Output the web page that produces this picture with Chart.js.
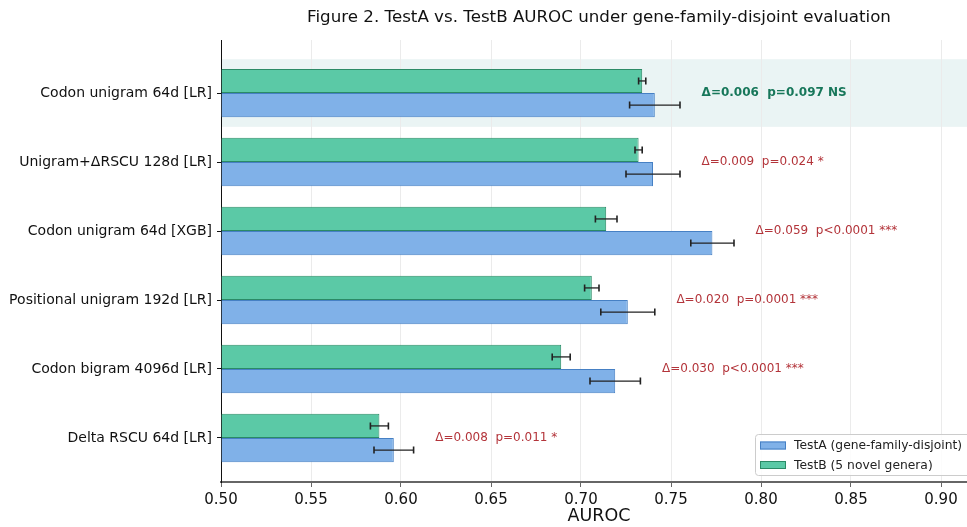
<!DOCTYPE html>
<html>
<head>
<meta charset="utf-8">
<script src="https://cdn.jsdelivr.net/npm/chart.js@4.4.1/dist/chart.umd.min.js"></script>
<style>
  html, body { margin: 0; padding: 0; background: #fff; overflow: hidden; }
  /* the original axes run a little past the right edge of the picture */
  #clip { width: 967px; height: 527px; overflow: hidden; position: relative; }
  #wrap { width: 982px; height: 527px; position: relative; }
</style>
</head>
<body>
<div id="clip"><div id="wrap"><canvas id="auroc"></canvas></div></div>
<script>
// data
var CATEGORIES = [
  'Codon unigram 64d [LR]',
  'Unigram+ΔRSCU 128d [LR]',
  'Codon unigram 64d [XGB]',
  'Positional unigram 192d [LR]',
  'Codon bigram 4096d [LR]',
  'Delta RSCU 64d [LR]'
];
var TESTA = [0.741, 0.740, 0.773, 0.726, 0.719, 0.596];
var TESTA_ERR = [0.014, 0.015, 0.012, 0.015, 0.014, 0.011];
var TESTB = [0.734, 0.732, 0.714, 0.706, 0.689, 0.588];
var TESTB_ERR = [0.002, 0.002, 0.006, 0.004, 0.005, 0.005];
var NOTES = [
  'Δ=0.006  p=0.097 NS',
  'Δ=0.009  p=0.024 *',
  'Δ=0.059  p<0.0001 ***',
  'Δ=0.020  p=0.0001 ***',
  'Δ=0.030  p<0.0001 ***',
  'Δ=0.008  p=0.011 *'
];
var NOTE_X = [0.767, 0.767, 0.797, 0.753, 0.745, 0.619];
var NS_ROWS = [0];
var X_TICKS = [0.50, 0.55, 0.60, 0.65, 0.70, 0.75, 0.80, 0.85, 0.90];

var FONT = "'DejaVu Sans', sans-serif";
var COLORS = {
  A: '#80b1e8', A_EDGE: '#4680c4',
  B: '#5bc9a6', B_EDGE: '#2b8a66',
  NS: '#17775a', SIG: '#b3343a',
  BAND: '#eaf4f4', ERR: '#222222'
};

function points(vals) {
  return vals.map(function (v, i) { return { x: v, y: i }; });
}

// light band behind the non-significant row
var bandPlugin = {
  id: 'band',
  beforeDraw: function (chart) {
    var ctx = chart.ctx, area = chart.chartArea, y = chart.scales.y;
    ctx.save();
    ctx.fillStyle = COLORS.BAND;
    NS_ROWS.forEach(function (i) {
      var top = y.getPixelForValue(i - 0.49);
      var bot = y.getPixelForValue(i + 0.49);
      ctx.fillRect(area.left, top, area.right - area.left, bot - top);
    });
    ctx.restore();
  }
};

var errPlugin = {
  id: 'errbars',
  afterDatasetsDraw: function (chart) {
    var ctx = chart.ctx, x = chart.scales.x;
    var errs = [TESTB_ERR, TESTA_ERR];
    var vals = [TESTB, TESTA];
    ctx.save();
    ctx.strokeStyle = COLORS.ERR;
    chart.data.datasets.forEach(function (ds, di) {
      chart.getDatasetMeta(di).data.forEach(function (bar, i) {
        var x0 = x.getPixelForValue(vals[di][i] - errs[di][i]);
        var x1 = x.getPixelForValue(vals[di][i] + errs[di][i]);
        var yc = bar.y;
        ctx.lineWidth = 1.3;
        ctx.beginPath();
        ctx.moveTo(x0, yc); ctx.lineTo(x1, yc);
        ctx.stroke();
        ctx.lineWidth = 1.6;
        ctx.beginPath();
        ctx.moveTo(x0, yc - 3.5); ctx.lineTo(x0, yc + 3.5);
        ctx.moveTo(x1, yc - 3.5); ctx.lineTo(x1, yc + 3.5);
        ctx.stroke();
      });
    });
    ctx.restore();
  }
};

var notePlugin = {
  id: 'notes',
  afterDatasetsDraw: function (chart) {
    var ctx = chart.ctx, x = chart.scales.x, y = chart.scales.y;
    ctx.save();
    ctx.textBaseline = 'middle';
    ctx.textAlign = 'left';
    NOTES.forEach(function (t, i) {
      var ns = NS_ROWS.indexOf(i) >= 0;
      ctx.font = (ns ? 'bold ' : '') + '12px ' + FONT;
      ctx.fillStyle = ns ? COLORS.NS : COLORS.SIG;
      ctx.fillText(t, x.getPixelForValue(NOTE_X[i]), y.getPixelForValue(i));
    });
    ctx.restore();
  }
};

// legend sits inside the axes, lower right
var legendPlugin = {
  id: 'boxLegend',
  afterDraw: function (chart) {
    var ctx = chart.ctx;
    var items = [
      { label: 'TestA (gene-family-disjoint)', fill: COLORS.A, edge: COLORS.A_EDGE },
      { label: 'TestB (5 novel genera)', fill: COLORS.B, edge: COLORS.B_EDGE }
    ];
    var bx = 755, by = 434, bw = 218, bh = 41;
    ctx.save();
    ctx.fillStyle = 'rgba(255,255,255,0.85)';
    ctx.strokeStyle = '#cccccc';
    ctx.lineWidth = 1;
    ctx.beginPath();
    ctx.roundRect(bx + 0.5, by + 0.5, bw, bh, 3);
    ctx.fill();
    ctx.stroke();
    ctx.font = '12.3px ' + FONT;
    ctx.textBaseline = 'middle';
    items.forEach(function (it, k) {
      var cy = by + 11.5 + k * 19.5;
      ctx.fillStyle = it.fill;
      ctx.fillRect(bx + 5, cy - 4, 26, 8);
      ctx.strokeStyle = it.edge;
      ctx.strokeRect(bx + 5.5, cy - 3.5, 25, 7);
      ctx.fillStyle = '#222';
      ctx.fillText(it.label, bx + 39, cy + 0.5);
    });
    ctx.restore();
  }
};

new Chart(document.getElementById('auroc'), {
  type: 'bar',
  data: {
    datasets: [
      {
        label: 'TestB (5 novel genera)',
        data: points(TESTB),
        backgroundColor: COLORS.B,
        borderColor: COLORS.B_EDGE,
        borderWidth: 1
      },
      {
        label: 'TestA (gene-family-disjoint)',
        data: points(TESTA),
        backgroundColor: COLORS.A,
        borderColor: COLORS.A_EDGE,
        borderWidth: 1
      }
    ]
  },
  options: {
    indexAxis: 'y',
    responsive: true,
    maintainAspectRatio: false,
    animation: false,
    base: 0.5,
    categoryPercentage: 0.7,
    barPercentage: 1.0,
    layout: { padding: { left: 0, right: 5, top: 0, bottom: 0 } },
    plugins: {
      legend: { display: false },
      tooltip: { enabled: false },
      title: {
        display: true,
        fullSize: false,
        text: 'Figure 2. TestA vs. TestB AUROC under gene-family-disjoint evaluation',
        color: '#111',
        font: { family: FONT, size: 16.7, weight: 'normal' },
        padding: { top: 8, bottom: 12 }
      }
    },
    scales: {
      x: {
        type: 'linear',
        min: 0.5,
        max: 0.92,
        afterBuildTicks: function (axis) {
          axis.ticks = X_TICKS.map(function (v) { return { value: v }; });
        },
        afterFit: function (axis) { axis.height = 45; },
        ticks: {
          color: '#111',
          padding: 4,
          font: { family: FONT, size: 15 },
          callback: function (v) { return Number(v).toFixed(2); }
        },
        grid: { color: '#ebebeb', tickColor: '#666', tickLength: 5 },
        border: { color: '#666', width: 2 },
        title: {
          display: true,
          text: 'AUROC',
          color: '#111',
          font: { family: FONT, size: 17.5 },
          padding: { top: 0, bottom: 0 }
        }
      },
      y: {
        type: 'linear',
        reverse: true,
        offset: false,
        min: -0.768,
        max: 5.638,
        afterBuildTicks: function (axis) {
          axis.ticks = CATEGORIES.map(function (c, i) { return { value: i }; });
        },
        afterFit: function (axis) { axis.width = 221; },
        ticks: {
          color: '#111',
          padding: 5,
          font: { family: FONT, size: 14 },
          callback: function (v) { return CATEGORIES[v]; }
        },
        grid: { offset: false, drawOnChartArea: false, drawTicks: true, tickLength: 4, tickColor: '#111' },
        border: { color: '#111', width: 1 }
      }
    }
  },
  plugins: [bandPlugin, errPlugin, notePlugin, legendPlugin]
});
</script>
</body>
</html>
